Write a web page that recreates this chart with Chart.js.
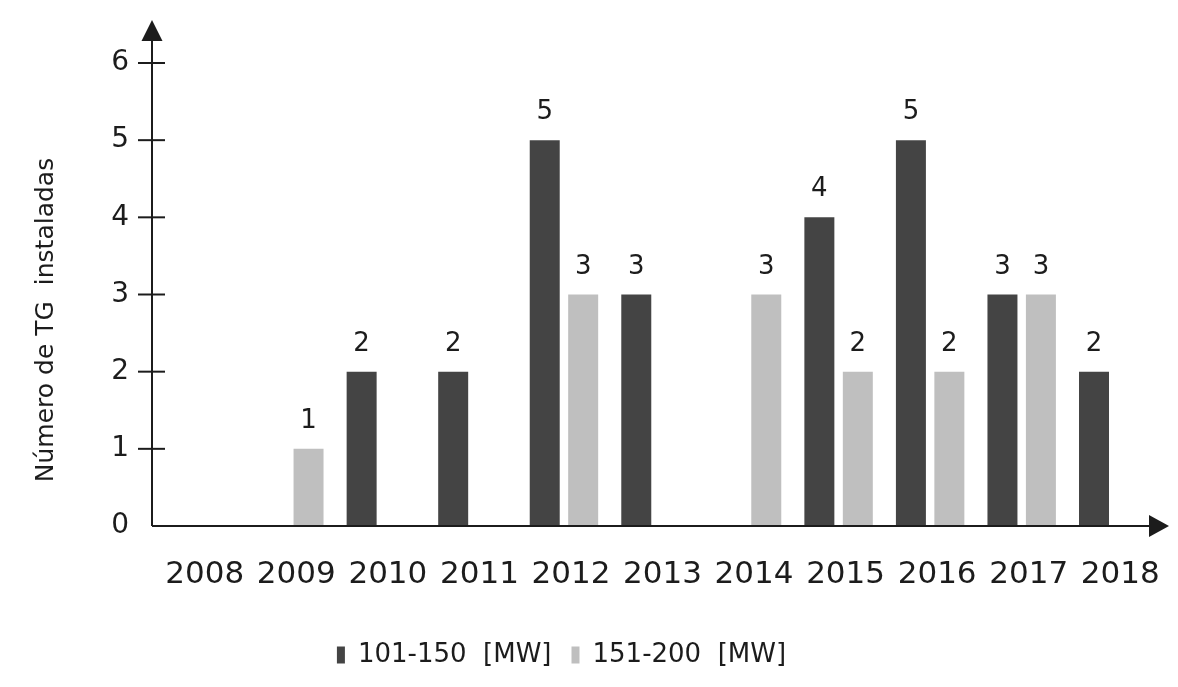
<!DOCTYPE html>
<html>
<head>
<meta charset="utf-8">
<script src="https://cdn.jsdelivr.net/npm/chart.js@4.4.1/dist/chart.umd.min.js"></script>
<style>
html,body{margin:0;padding:0;background:#ffffff;}
#wrap{width:1178px;height:687px;}
</style>
</head>
<body>
<div id="wrap"><canvas id="c" width="1178" height="687"></canvas></div>
<script>
// ---- data ----
const years = ['2008','2009','2010','2011','2012','2013','2014','2015','2016','2017','2018'];
const mw101to150 = [null, null, 2, 2, 5, 3, null, 4, 5, 3, 2];
const mw151to200 = [null, 1, null, null, 3, null, 3, 2, 2, 3, null];
const seriesNames = ['101-150  [MW]', '151-200  [MW]'];
const yTicks = [0, 1, 2, 3, 4, 5, 6];
const yTitle = 'Número de TG  instaladas';

const FONT = "'DejaVu Sans', Verdana, sans-serif";
const INK = '#1c1c1c';
const DARK = '#444444';
const LIGHT = '#bfbfbf';

const decor = {
  id: 'decor',
  afterLayout(chart) {
    if (chart.legend) { chart.legend.left -= 18; chart.legend.right -= 18; }
  },
  afterDatasetsDraw(chart) {
    const ctx = chart.ctx;
    ctx.save();
    ctx.fillStyle = INK;
    ctx.font = '26px ' + FONT;
    ctx.textAlign = 'center';
    ctx.textBaseline = 'alphabetic';
    chart.data.datasets.forEach((ds, i) => {
      const meta = chart.getDatasetMeta(i);
      meta.data.forEach((bar, j) => {
        const v = ds.data[j];
        if (v === null || v === undefined) return;
        ctx.fillText(String(v), bar.x, bar.y - 21);
      });
    });
    ctx.restore();
  },
  afterDraw(chart) {
    const ctx = chart.ctx;
    const xs = chart.scales.x, ys = chart.scales.y;
    const x0 = xs.left, y0 = ys.getPixelForValue(0);
    const yTop = ys.getPixelForValue(yTicks[yTicks.length - 1]);
    ctx.save();
    ctx.strokeStyle = INK;
    ctx.fillStyle = INK;
    ctx.lineWidth = 2;
    // y axis
    ctx.beginPath();
    ctx.moveTo(x0, y0);
    ctx.lineTo(x0, yTop - 30);
    ctx.stroke();
    ctx.beginPath();
    ctx.moveTo(x0, yTop - 43);
    ctx.lineTo(x0 - 10.5, yTop - 22);
    ctx.lineTo(x0 + 10.5, yTop - 22);
    ctx.closePath();
    ctx.fill();
    // x axis
    const xEnd = xs.right + 10;
    ctx.beginPath();
    ctx.moveTo(x0, y0);
    ctx.lineTo(xEnd - 12, y0);
    ctx.stroke();
    ctx.beginPath();
    ctx.moveTo(xEnd, y0);
    ctx.lineTo(xEnd - 20, y0 - 11);
    ctx.lineTo(xEnd - 20, y0 + 11);
    ctx.closePath();
    ctx.fill();
    // y ticks crossing axis
    yTicks.forEach(v => {
      if (v === 0) return;
      const py = ys.getPixelForValue(v);
      ctx.beginPath();
      ctx.moveTo(x0 - 14, py);
      ctx.lineTo(x0 + 13, py);
      ctx.stroke();
    });
    // y axis title
    ctx.translate(53, 320);
    ctx.rotate(-Math.PI / 2);
    ctx.font = '25px ' + FONT;
    ctx.textAlign = 'center';
    ctx.textBaseline = 'alphabetic';
    ctx.fillText(yTitle, 0, 0);
    ctx.restore();
  }
};

new Chart(document.getElementById('c'), {
  type: 'bar',
  data: {
    labels: years,
    datasets: [
      { label: seriesNames[0], data: mw101to150, backgroundColor: DARK, borderWidth: 0,
        categoryPercentage: 0.84, barPercentage: 0.78 },
      { label: seriesNames[1], data: mw151to200, backgroundColor: LIGHT, borderWidth: 0,
        categoryPercentage: 0.84, barPercentage: 0.78 }
    ]
  },
  options: {
    responsive: false,
    animation: false,
    devicePixelRatio: 1,
    layout: { padding: { top: 63, right: 19, bottom: 9, left: 0 } },
    plugins: {
      legend: {
        position: 'bottom',
        labels: {
          boxWidth: 8, boxHeight: 17, padding: 20, color: INK,
          font: { size: 26, family: FONT }
        }
      },
      tooltip: { enabled: false },
      title: { display: false }
    },
    scales: {
      x: {
        grid: { display: false, drawTicks: true, tickLength: 30 },
        border: { display: false },
        ticks: { color: INK, font: { size: 31, family: FONT }, padding: 0, labelOffset: 7,
                 maxRotation: 0, autoSkip: false },
        afterFit(s) { s.height = 96; }
      },
      y: {
        min: 0, max: 6,
        grid: { display: false, drawTicks: false },
        border: { display: false },
        ticks: { stepSize: 1, color: INK, font: { size: 28, family: FONT }, padding: 23 },
        afterFit(s) { s.width = 152; }
      }
    }
  },
  plugins: [decor]
});
</script>
</body>
</html>
